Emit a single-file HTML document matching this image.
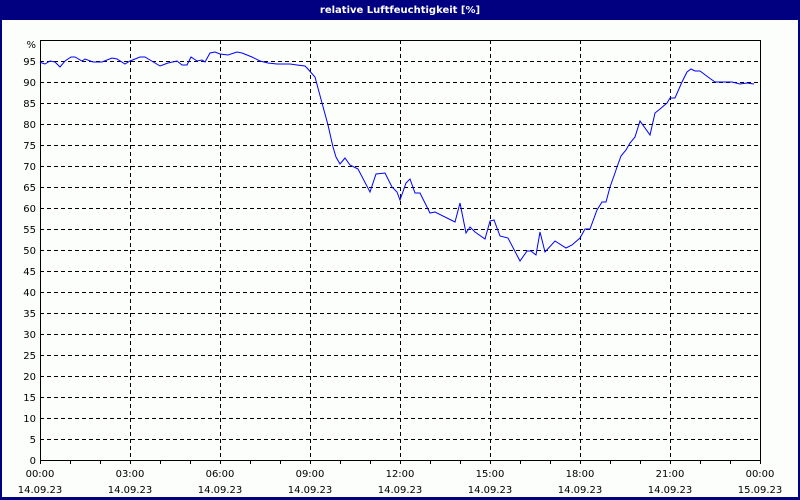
<!DOCTYPE html><html><head><meta charset="utf-8"><style>
html,body{margin:0;padding:0;background:#fff}
svg{display:block}
text{font-family:"DejaVu Sans","Liberation Sans",sans-serif;font-size:10px;fill:#000}
</style></head><body>
<svg width="800" height="500" viewBox="0 0 800 500" xmlns="http://www.w3.org/2000/svg">
<rect x="0" y="0" width="800" height="500" fill="#000080"/>
<rect x="2" y="20" width="796" height="477" fill="#fcfefc"/>
<text x="400" y="13" text-anchor="middle" style="fill:#fff;font-weight:bold;font-size:10px">relative Luftfeuchtigkeit [%]</text>
<g stroke="#000" stroke-width="1" stroke-dasharray="4,3" shape-rendering="crispEdges">
<line x1="40" x2="760" y1="61.5" y2="61.5"/><line x1="40" x2="760" y1="82.5" y2="82.5"/><line x1="40" x2="760" y1="103.5" y2="103.5"/><line x1="40" x2="760" y1="124.5" y2="124.5"/><line x1="40" x2="760" y1="145.5" y2="145.5"/><line x1="40" x2="760" y1="166.5" y2="166.5"/><line x1="40" x2="760" y1="187.5" y2="187.5"/><line x1="40" x2="760" y1="208.5" y2="208.5"/><line x1="40" x2="760" y1="229.5" y2="229.5"/><line x1="40" x2="760" y1="250.5" y2="250.5"/><line x1="40" x2="760" y1="271.5" y2="271.5"/><line x1="40" x2="760" y1="292.5" y2="292.5"/><line x1="40" x2="760" y1="313.5" y2="313.5"/><line x1="40" x2="760" y1="334.5" y2="334.5"/><line x1="40" x2="760" y1="355.5" y2="355.5"/><line x1="40" x2="760" y1="376.5" y2="376.5"/><line x1="40" x2="760" y1="397.5" y2="397.5"/><line x1="40" x2="760" y1="418.5" y2="418.5"/><line x1="40" x2="760" y1="439.5" y2="439.5"/>
<line x1="130.5" x2="130.5" y1="40" y2="460"/><line x1="220.5" x2="220.5" y1="40" y2="460"/><line x1="310.5" x2="310.5" y1="40" y2="460"/><line x1="400.5" x2="400.5" y1="40" y2="460"/><line x1="490.5" x2="490.5" y1="40" y2="460"/><line x1="580.5" x2="580.5" y1="40" y2="460"/><line x1="670.5" x2="670.5" y1="40" y2="460"/>
</g>
<g stroke="#000" stroke-width="1" shape-rendering="crispEdges" fill="none">
<rect x="40.5" y="40.5" width="720" height="420"/>
<path d="M40.5 460v4M70.5 460v4M100.5 460v4M130.5 460v4M160.5 460v4M190.5 460v4M220.5 460v4M250.5 460v4M280.5 460v4M310.5 460v4M340.5 460v4M370.5 460v4M400.5 460v4M430.5 460v4M460.5 460v4M490.5 460v4M520.5 460v4M550.5 460v4M580.5 460v4M610.5 460v4M640.5 460v4M670.5 460v4M700.5 460v4M730.5 460v4M760.5 460v4"/>
</g>
<polyline fill="none" stroke="#0000ff" stroke-width="1" points="40,62 42,63 45,64 50,61 55,62 60,67 65,61 71,57 75,57 82,61 85,59 93,62 102,62 112,58 117,59 125,64 130,61 140,57 145,57 160,66 168,63 177,61 182,65 187,65 191,57 197,61 202,60 205,62 210,53 215,52 220,54 228,55 237,52 242,53 252,57 260,61 268,63 277,64 290,64 297,65 305,66 307,68 315,77 322,103 328,125 333,147 336,157 340,164 345,158 350,165 358,169 370,192 376,174 385,173 392,187 397,192 400,200 406,183 410,179 415,193 420,193 430,213 435,212 455,222 460,203 466,233 470,227 475,232 485,239 490,221 494,220 500,236 508,238 520,261 527,251 531,251 536,255 540,232 545,252 555,241 566,248 572,245 580,238 585,229 590,229 597,210 602,202 606,202 610,187 615,173 617,167 621,156 626,150 630,143 635,137 640,121 650,135 655,113 660,109 667,103 670,98 675,98 682,82 687,72 691,69 695,71 700,71 708,77 715,82 723,82 732,82 740,84 747,83 754,84"/>
<g text-anchor="end">
<text x="36" y="48">%</text><text x="36" y="65">95</text><text x="36" y="86">90</text><text x="36" y="107">85</text><text x="36" y="128">80</text><text x="36" y="149">75</text><text x="36" y="170">70</text><text x="36" y="191">65</text><text x="36" y="212">60</text><text x="36" y="233">55</text><text x="36" y="254">50</text><text x="36" y="275">45</text><text x="36" y="296">40</text><text x="36" y="317">35</text><text x="36" y="338">30</text><text x="36" y="359">25</text><text x="36" y="380">20</text><text x="36" y="401">15</text><text x="36" y="422">10</text><text x="36" y="443">5</text><text x="36" y="464">0</text>
</g>
<g text-anchor="middle">
<text x="40" y="477">00:00</text><text x="40" y="493">14.09.23</text>
<text x="130" y="477">03:00</text><text x="130" y="493">14.09.23</text>
<text x="220" y="477">06:00</text><text x="220" y="493">14.09.23</text>
<text x="310" y="477">09:00</text><text x="310" y="493">14.09.23</text>
<text x="400" y="477">12:00</text><text x="400" y="493">14.09.23</text>
<text x="490" y="477">15:00</text><text x="490" y="493">14.09.23</text>
<text x="580" y="477">18:00</text><text x="580" y="493">14.09.23</text>
<text x="670" y="477">21:00</text><text x="670" y="493">14.09.23</text>
<text x="760" y="477">00:00</text><text x="760" y="493">15.09.23</text>
</g>
</svg>
</body></html>
